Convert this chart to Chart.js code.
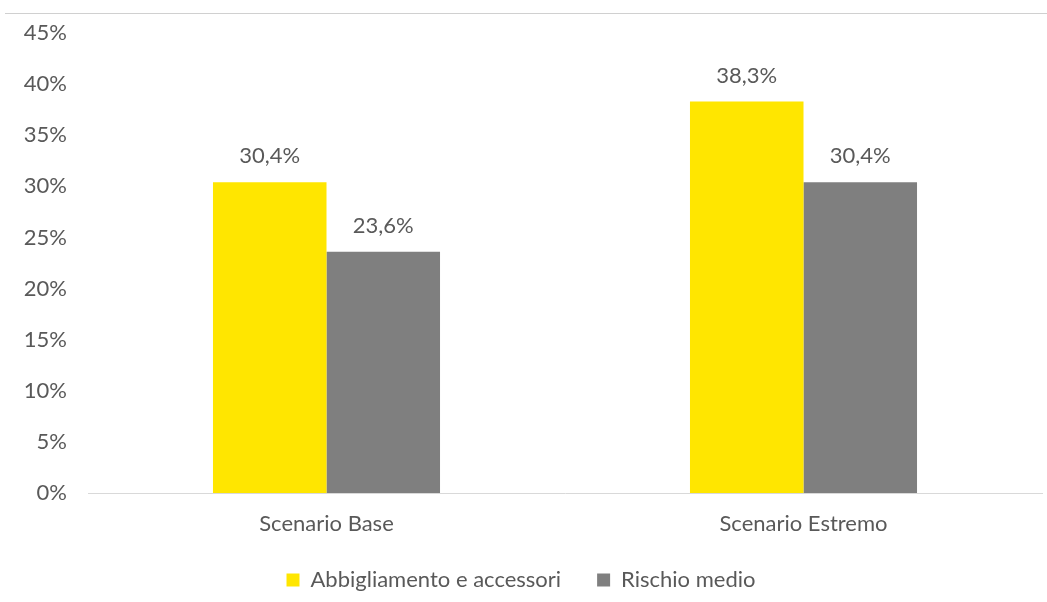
<!DOCTYPE html>
<html>
<head>
<meta charset="utf-8">
<script src="https://cdn.jsdelivr.net/npm/chart.js@4/dist/chart.umd.min.js"></script>
<style>
  html, body { margin: 0; padding: 0; background: #fff; }
  #wrap { position: relative; width: 1047px; height: 602px; }
  #topline { position: absolute; left: 5px; right: 0; top: 13px; border-top: 1px solid #d0d0d0; }
</style>
</head>
<body>
<div id="wrap">
  <div id="topline"></div>
  <canvas id="chart" width="1047" height="602"></canvas>
</div>
<script>
const categories = ['Scenario Base', 'Scenario Estremo'];
const abbigliamento = [30.4, 38.3];
const rischioMedio = [23.6, 30.4];
const seriesNames = ['Abbigliamento e accessori', 'Rischio medio'];

const textColor = '#595959';
const fontFamily = 'Lato, "Open Sans", sans-serif';

function fmt(v) {
    return v.toFixed(1).replace('.', ',') + '%';
}

// etichette sopra le barre
const valueLabels = {
    id: 'valueLabels',
    afterDatasetsDraw(chart) {
        const ctx = chart.ctx;
        ctx.save();
        ctx.fillStyle = textColor;
        ctx.font = '22px ' + fontFamily;
        ctx.textAlign = 'center';
        ctx.textBaseline = 'middle';
        chart.data.datasets.forEach(function (ds, i) {
            chart.getDatasetMeta(i).data.forEach(function (bar, j) {
                ctx.fillText(fmt(ds.data[j]), bar.x, bar.y - 26);
            });
        });
        ctx.restore();
    }
};

new Chart(document.getElementById('chart').getContext('2d'), {
    type: 'bar',
    data: {
        labels: categories,
        datasets: [{
            label: seriesNames[0],
            backgroundColor: '#FFE600',
            data: abbigliamento
        }, {
            label: seriesNames[1],
            backgroundColor: '#7F7F7F',
            data: rischioMedio
        }]
    },
    options: {
        responsive: false,
        animation: false,
        devicePixelRatio: 1,
        barPercentage: 1,
        categoryPercentage: 0.476,
        layout: { padding: { top: 33, right: 5, left: 0, bottom: 1 } },
        plugins: {
            tooltip: { enabled: false },
            legend: {
                position: 'bottom',
                labels: {
                    color: textColor,
                    font: { size: 22, family: fontFamily },
                    boxWidth: 13,
                    boxHeight: 13,
                    padding: 36
                }
            }
        },
        scales: {
            x: {
                grid: { display: false },
                border: { color: '#d9d9d9', width: 1 },
                afterFit: function (scale) { scale.height = 40; },
                ticks: { color: textColor, font: { size: 22, family: fontFamily }, padding: 10 }
            },
            y: {
                min: 0,
                max: 45,
                grid: { display: false },
                border: { display: false },
                afterFit: function (scale) { scale.width = 88; },
                ticks: {
                    stepSize: 5,
                    color: textColor,
                    font: { size: 22, family: fontFamily },
                    padding: 13,
                    callback: function (v) { return v + '%'; }
                }
            }
        }
    },
    plugins: [valueLabels]
});
</script>
</body>
</html>
